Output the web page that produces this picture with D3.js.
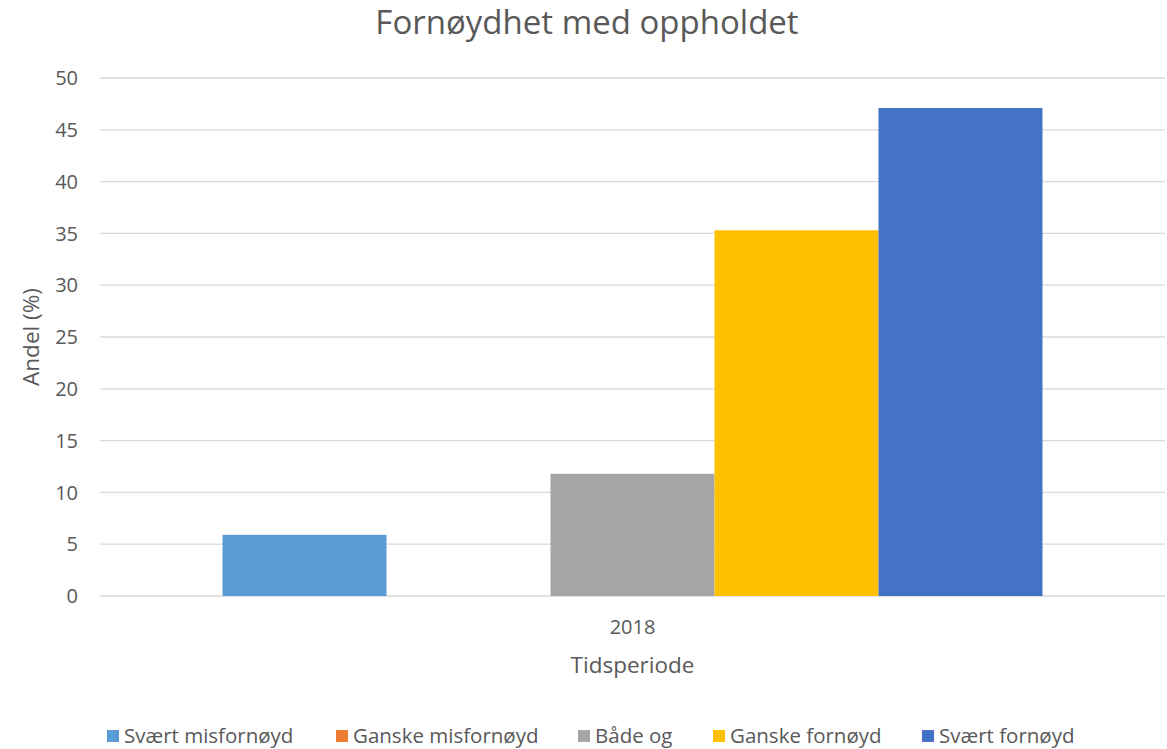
<!DOCTYPE html>
<html><head><meta charset="utf-8">
<script src="https://cdn.jsdelivr.net/npm/d3@7"></script>
<style>body{margin:0;background:#fff}svg{display:block}text{font-family:"Open Sans",sans-serif}</style>
</head><body><svg id="c" width="1167" height="749"></svg>
<script>
const categories = ["2018"];
const seriesNames = ["Svært misfornøyd","Ganske misfornøyd","Både og","Ganske fornøyd","Svært fornøyd"];
const seriesValues = [5.9, 0, 11.8, 35.3, 47.1];
const seriesColors = ["#5B9BD5","#ED7D31","#A5A5A5","#FFC000","#4472C4"];
const yTicks = [0,5,10,15,20,25,30,35,40,45,50];

(function(){
const svg = d3.select("#c");
const pL = 100, pR = 1165, pT = 78, pB = 596;
const y = d3.scaleLinear().domain([0,50]).range([pB, pT]);
const x0 = d3.scaleBand().domain(categories).range([pL, pR]).paddingInner(0).paddingOuter(0.1494);
const x1 = d3.scaleBand().domain(seriesNames).range([0, x0.bandwidth()]).padding(0);

svg.append("g").selectAll("line").data(yTicks).join("line")
  .attr("x1", pL).attr("x2", pR)
  .attr("y1", d => y(d)).attr("y2", d => y(d))
  .attr("stroke", "#d9d9d9").attr("stroke-width", 1.3);

svg.append("g").selectAll("text").data(yTicks).join("text")
  .attr("x", 78).attr("y", d => y(d)).attr("dy", "0.36em")
  .attr("text-anchor", "end").attr("font-size", 20).attr("fill", "#595959")
  .text(d => d);

const g = svg.append("g").attr("transform", `translate(${x0("2018")},0)`);
g.selectAll("rect").data(seriesNames.map((n,i)=>({n, v: seriesValues[i], c: seriesColors[i]}))).join("rect")
  .attr("x", d => x1(d.n)).attr("width", x1.bandwidth())
  .attr("y", d => y(d.v)).attr("height", d => y(0) - y(d.v))
  .attr("fill", d => d.c);

svg.append("g").selectAll("text").data(categories).join("text")
  .attr("x", d => x0(d) + x0.bandwidth()/2).attr("y", 634)
  .attr("text-anchor", "middle").attr("font-size", 20).attr("fill", "#595959")
  .text(d => d);

svg.append("text").attr("x", (x0("2018") + x0.bandwidth()/2)).attr("y", 673)
  .attr("text-anchor", "middle").attr("font-size", 22.5).attr("fill", "#595959").text("Tidsperiode");
svg.append("text").attr("transform", "translate(39,337) rotate(-90)")
  .attr("text-anchor", "middle").attr("font-size", 22.5).attr("fill", "#595959").text("Andel (%)");

svg.append("text").attr("x", 587).attr("y", 34)
  .attr("text-anchor", "middle").attr("font-size", 33).attr("fill", "#595959")
  .text("Fornøydhet med oppholdet");

const legX = [107, 336, 578, 713, 922];
const lg = svg.append("g").selectAll("g").data(seriesNames).join("g")
  .attr("transform", (d,i) => `translate(${legX[i]},730)`);
lg.append("rect").attr("width", 12).attr("height", 12).attr("fill", (d,i) => seriesColors[i]);
lg.append("text").attr("x", 17).attr("y", 6).attr("dy", "0.36em")
  .attr("font-size", 20.5).attr("fill", "#595959").text(d => d);
})();
</script></body></html>
